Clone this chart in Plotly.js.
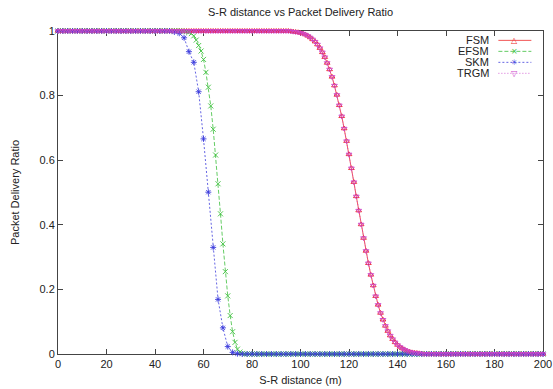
<!DOCTYPE html>
<html>
<head>
<meta charset="utf-8">
<script src="https://cdn.plot.ly/plotly-3.0.1.min.js"></script>
<style>html,body{margin:0;padding:0;background:#fff;}#chart{width:553px;height:389px;}</style>
</head>
<body>
<div id="chart"></div>
<script>
// ---- data ----
const seriesNames = ['FSM', 'EFSM', 'SKM', 'TRGM'];

// S-R distance (m) for FSM / EFSM / TRGM: every metre 0..200
const distStep1 = [
  0,1,2,3,4,5,6,7,8,9,10,11,12,13,14,15,16,17,18,19,
  20,21,22,23,24,25,26,27,28,29,30,31,32,33,34,35,36,37,38,39,
  40,41,42,43,44,45,46,47,48,49,50,51,52,53,54,55,56,57,58,59,
  60,61,62,63,64,65,66,67,68,69,70,71,72,73,74,75,76,77,78,79,
  80,81,82,83,84,85,86,87,88,89,90,91,92,93,94,95,96,97,98,99,
  100,101,102,103,104,105,106,107,108,109,110,111,112,113,114,115,116,117,118,119,
  120,121,122,123,124,125,126,127,128,129,130,131,132,133,134,135,136,137,138,139,
  140,141,142,143,144,145,146,147,148,149,150,151,152,153,154,155,156,157,158,159,
  160,161,162,163,164,165,166,167,168,169,170,171,172,173,174,175,176,177,178,179,
  180,181,182,183,184,185,186,187,188,189,190,191,192,193,194,195,196,197,198,199,
  200
];

// S-R distance (m) for SKM: every 2 metres 0..200
const distStep2 = [
  0,2,4,6,8,10,12,14,16,18,20,22,24,26,28,30,32,34,36,38,
  40,42,44,46,48,50,52,54,56,58,60,62,64,66,68,70,72,74,76,78,
  80,82,84,86,88,90,92,94,96,98,100,102,104,106,108,110,112,114,116,118,
  120,122,124,126,128,130,132,134,136,138,140,142,144,146,148,150,152,154,156,158,
  160,162,164,166,168,170,172,174,176,178,180,182,184,186,188,190,192,194,196,198,
  200
];

const fsmPDR = [
  1,1,1,1,1,1,1,1,1,1, 1,1,1,1,1,1,1,1,1,1,
  1,1,1,1,1,1,1,1,1,1, 1,1,1,1,1,1,1,1,1,1,
  1,1,1,1,1,1,1,1,1,1, 1,1,1,1,1,1,1,1,1,1,
  1,1,1,1,1,1,1,1,1,1, 1,1,1,1,1,1,1,1,1,1,
  1,1,1,1,1,1,1,1,1,1, 1,1,1,1,1,1,0.999,0.998,0.997,0.996,
  0.994,0.992,0.989,0.985,0.980,0.974,0.967,0.958,0.947,0.934,
  0.919,0.901,0.881,0.858,0.831,0.802,0.770,0.736,0.698,0.659,
  0.618,0.575,0.532,0.488,0.444,0.401,0.359,0.319,0.281,0.245,
  0.212,0.179,0.152,0.127,0.106,0.087,0.071,0.057,0.046,0.036,
  0.028,0.022,0.017,0.013,0.009,0.007,0.005,0.004,0.003,0.002,
  0.001,0,0,0,0,0,0,0,0,0, 0,0,0,0,0,0,0,0,0,0,
  0,0,0,0,0,0,0,0,0,0, 0,0,0,0,0,0,0,0,0,0,
  0,0,0,0,0,0,0,0,0,0, 0,0,0,0,0,0,0,0,0,0,
  0
];

const efsmPDR = [
  1,1,1,1,1,1,1,1,1,1, 1,1,1,1,1,1,1,1,1,1,
  1,1,1,1,1,1,1,1,1,1, 1,1,1,1,1,1,1,1,1,1,
  1,1,1,1,1,1,1,1,1,1, 1,1,0.999,0.998,0.996,0.992,0.985,0.972,0.955,0.938,
  0.912,0.872,0.826,0.768,0.696,0.616,0.527,0.434,0.341,0.255,
  0.180,0.119,0.069,0.036,0.015,0.006,0.002,0,0,0,
  0,0,0,0,0,0,0,0,0,0, 0,0,0,0,0,0,0,0,0,0,
  0,0,0,0,0,0,0,0,0,0, 0,0,0,0,0,0,0,0,0,0,
  0,0,0,0,0,0,0,0,0,0, 0,0,0,0,0,0,0,0,0,0,
  0,0,0,0,0,0,0,0,0,0, 0,0,0,0,0,0,0,0,0,0,
  0,0,0,0,0,0,0,0,0,0, 0,0,0,0,0,0,0,0,0,0,
  0,0,0,0,0,0,0,0,0,0, 0,0,0,0,0,0,0,0,0,0,
  0
];

const skmPDR = [
  1,1,1,1,1,1,1,1,1,1, 1,1,1,1,1,1,1,1,1,1,
  1,1,1,1,0.997,0.993,0.979,0.936,0.903,0.812,
  0.666,0.501,0.330,0.169,0.081,0.023,0.005,0.001,0,0,
  0,0,0,0,0,0,0,0,0,0, 0,0,0,0,0,0,0,0,0,0,
  0,0,0,0,0,0,0,0,0,0, 0,0,0,0,0,0,0,0,0,0,
  0,0,0,0,0,0,0,0,0,0, 0,0,0,0,0,0,0,0,0,0,
  0
];

const trgmPDR = [
  1,1,1,1,1,1,1,1,1,1, 1,1,1,1,1,1,1,1,1,1,
  1,1,1,1,1,1,1,1,1,1, 1,1,1,1,1,1,1,1,1,1,
  1,1,1,1,1,1,1,1,1,1, 1,1,1,1,1,1,1,1,1,1,
  1,1,1,1,1,1,1,1,1,1, 1,1,1,1,1,1,1,1,1,1,
  1,1,1,1,1,1,1,1,1,1, 1,1,1,1,1,1,0.999,0.998,0.997,0.996,
  0.994,0.992,0.989,0.985,0.980,0.974,0.967,0.958,0.947,0.934,
  0.919,0.901,0.881,0.858,0.831,0.802,0.770,0.736,0.698,0.659,
  0.618,0.575,0.532,0.488,0.444,0.401,0.359,0.319,0.281,0.245,
  0.212,0.179,0.152,0.127,0.106,0.087,0.071,0.057,0.046,0.036,
  0.028,0.022,0.017,0.013,0.009,0.007,0.005,0.004,0.003,0.002,
  0.001,0,0,0,0,0,0,0,0,0, 0,0,0,0,0,0,0,0,0,0,
  0,0,0,0,0,0,0,0,0,0, 0,0,0,0,0,0,0,0,0,0,
  0,0,0,0,0,0,0,0,0,0, 0,0,0,0,0,0,0,0,0,0,
  0
];

const xTicks = [0, 20, 40, 60, 80, 100, 120, 140, 160, 180, 200];
const yTicks = [0, 0.2, 0.4, 0.6, 0.8, 1];

// ---- styles ----
const styles = [
  {color: '#ee2a2a', dash: 'solid',        symbol: 'triangle-up-open',   glyph: '\u25B3'},
  {color: '#3cbf3c', dash: '4px,2px',      symbol: 'x-thin-open',        glyph: '\u00D7'},
  {color: '#3c3cdc', dash: '2px,2px',      symbol: 'asterisk-open',      glyph: '\u2733'},
  {color: '#cc44cc', dash: '1px,2px',      symbol: 'triangle-down-open', glyph: '\u25BD'}
];
const xs = [distStep1, distStep1, distStep2, distStep1];
const ys = [fsmPDR, efsmPDR, skmPDR, trgmPDR];

const traces = seriesNames.map((name, i) => ({
  type: 'scatter',
  mode: 'lines+markers',
  name: name,
  x: xs[i],
  y: ys[i],
  cliponaxis: false,
  line: {color: styles[i].color, width: 0.8, dash: styles[i].dash},
  marker: {symbol: styles[i].symbol, size: 5, color: styles[i].color,
           line: {color: styles[i].color, width: 0.9}}
}));

// gnuplot-style key (text right-aligned, then sample)
const FONT = 'Liberation Sans, Arial, Helvetica, sans-serif';
const keyTextX = 0.893, keyLineX0 = 0.908, keyLineX1 = 0.976, keyMarkX = 0.942;
const keyY = [0.971, 0.937, 0.903, 0.869];
const annotations = [];
const shapes = [];
seriesNames.forEach((name, i) => {
  annotations.push({xref: 'paper', yref: 'paper', x: keyTextX, y: keyY[i],
    xanchor: 'right', yanchor: 'middle', text: name, showarrow: false,
    font: {family: FONT, size: 11, color: '#222'}});
  shapes.push({type: 'line', xref: 'paper', yref: 'paper',
    x0: keyLineX0, x1: keyLineX1, y0: keyY[i], y1: keyY[i],
    line: {color: styles[i].color, width: 0.8, dash: styles[i].dash}});
  annotations.push({xref: 'paper', yref: 'paper', x: keyMarkX, y: keyY[i],
    xanchor: 'center', yanchor: 'middle', text: styles[i].glyph, showarrow: false,
    font: {family: 'DejaVu Sans', size: 8, color: styles[i].color}});
});

const axisCommon = {
  showgrid: false, zeroline: false, showline: true, linecolor: '#444', linewidth: 1,
  mirror: 'ticks', ticks: 'inside', ticklen: 5, tickcolor: '#444', tickwidth: 1,
  layer: 'below traces', tickfont: {family: FONT, size: 11, color: '#222'}
};

const layout = {
  width: 553, height: 389,
  margin: {l: 58, r: 10, t: 31, b: 35},
  paper_bgcolor: '#fff', plot_bgcolor: '#fff',
  showlegend: false,
  title: {text: 'S-R distance vs Packet Delivery Ratio', xref: 'paper', x: 0.5,
          y: 0.968, yanchor: 'middle', font: {family: FONT, size: 11, color: '#222'}},
  xaxis: Object.assign({}, axisCommon, {range: [0, 200], tickvals: xTicks,
    title: {text: 'S-R distance (m)', standoff: 7, font: {family: FONT, size: 11, color: '#222'}}}),
  yaxis: Object.assign({}, axisCommon, {range: [0, 1], tickvals: yTicks,
    title: {text: 'Packet Delivery Ratio', standoff: 17, font: {family: FONT, size: 11, color: '#222'}}}),
  annotations: annotations,
  shapes: shapes
};

Plotly.newPlot('chart', traces, layout, {staticPlot: true, displayModeBar: false});
</script>
</body>
</html>
